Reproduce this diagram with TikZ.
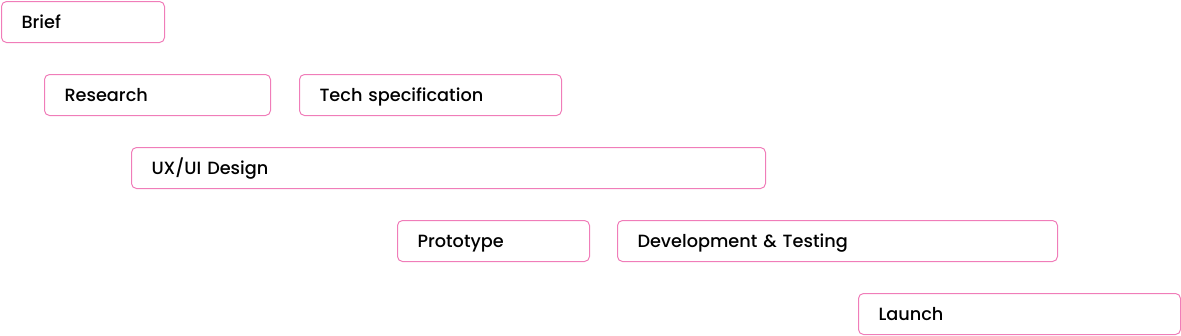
\documentclass[tikz,border=0pt]{standalone}
\usepackage{fontspec}
\setmainfont{Poppins}[UprightFont={* Medium}]
\definecolor{boxpink}{HTML}{F07DB9}
\tikzset{
  taskbox/.style={draw=boxpink, line width=1pt, rounded corners=5pt, anchor=north west,
    minimum height=41pt, inner xsep=20pt, inner ysep=0pt, align=left,
    text height=12.6pt, text depth=0pt,
    font=\fontsize{17.7}{20}\selectfont, text=black}
}
\newcommand{\taskat}[6]{% name, x1, y1, x2, text
  \pgfmathsetmacro{\tw}{#4-#2-40}
  \node[taskbox, text width=\tw pt] (#1) at (#2pt,-#3pt) {#5};
}
\begin{document}
\begin{tikzpicture}[x=1pt,y=1pt]
\useasboundingbox (0,0) rectangle (1181,-335);
\taskat{brief}{1}{1}{164}{Brief}{}
\taskat{research}{44}{74}{270}{Research}{}
\taskat{tech}{299}{74}{561}{Tech specification}{}
\taskat{ux}{131}{147}{765}{UX/UI Design}{}
\taskat{proto}{397}{220}{589}{Prototype}{}
\taskat{dev}{617}{220}{1057}{Development \& Testing}{}
\taskat{launch}{858}{293}{1180}{Launch}{}
\end{tikzpicture}
\end{document}
